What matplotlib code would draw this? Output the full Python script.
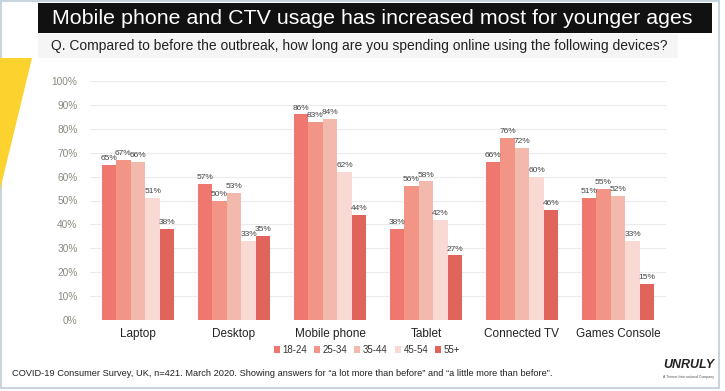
import matplotlib
matplotlib.use("Agg")
import matplotlib.pyplot as plt
from matplotlib.patches import Rectangle, Polygon
import numpy as np

categories = ["Laptop", "Desktop", "Mobile phone", "Tablet", "Connected TV", "Games Console"]
age_groups = ["18-24", "25-34", "35-44", "45-54", "55+"]
v_18_24 = [65, 57, 86, 38, 66, 51]
v_25_34 = [67, 50, 83, 56, 76, 55]
v_35_44 = [66, 53, 84, 58, 72, 52]
v_45_54 = [51, 33, 62, 42, 60, 33]
v_55p = [38, 35, 44, 27, 46, 15]
series = [v_18_24, v_25_34, v_35_44, v_45_54, v_55p]
colors = ["#EE776F", "#F29587", "#F4B9AD", "#F9D9D3", "#E0645B"]
yticks = [0, 10, 20, 30, 40, 50, 60, 70, 80, 90, 100]

base = "Liberation Sans"

W, H = 725, 391
fig = plt.figure(figsize=(W / 100, H / 100), dpi=100)
fig.patch.set_facecolor("white")

def fx(x):
    return x / W

def fy(y):
    return 1 - y / H

# border
fig.add_artist(Rectangle((fx(1), fy(388)), fx(718), (387) / H, transform=fig.transFigure,
                         facecolor="none", edgecolor="#C9D5DE", lw=1.5))
# yellow shape
fig.add_artist(Polygon([(fx(0), fy(58)), (fx(32), fy(58)), (fx(0), fy(190))], closed=True,
                       transform=fig.transFigure, facecolor="#FCD22E", edgecolor="none"))
# title bar
fig.add_artist(Rectangle((fx(38), fy(33)), fx(674), 30 / H, transform=fig.transFigure,
                         facecolor="#111111", edgecolor="none"))
fig.text(fx(52), fy(18), "Mobile phone and CTV usage has increased most for younger ages",
         color="white", fontsize=15.4, family=base, va="center", ha="left")
# subtitle band
fig.add_artist(Rectangle((fx(38), fy(58)), fx(640), 24 / H, transform=fig.transFigure,
                         facecolor="#F5F5F5", edgecolor="none"))
fig.text(fx(51), fy(46), "Q. Compared to before the outbreak, how long are you spending online using the following devices?",
         color="#222222", fontsize=10, family=base, va="center", ha="left")

ax = fig.add_axes([fx(90), fy(320), fx(576), 239 / H])
x = np.arange(len(categories))
bw = 0.152
for i, (vals, c) in enumerate(zip(series, colors)):
    pos = x + (i - 2) * bw
    ax.bar(pos, vals, width=bw, color=c, label=age_groups[i], zorder=2)
    for p, v in zip(pos, vals):
        ax.text(p, v + 1.2, f"{v}%", ha="center", va="bottom", fontsize=6.0,
                color="#444444", family=base)

ax.set_xlim(-0.5, len(categories) - 0.5)
ax.set_ylim(0, 100)
ax.set_yticks(yticks)
ax.set_yticklabels([f"{t}%" for t in yticks], fontsize=7.3, color="#8A8A80", family=base)
ax.set_xticks(x)
ax.set_xticklabels(categories, fontsize=8.5, color="#222222", family=base)
ax.tick_params(axis="both", length=0)
ax.tick_params(axis="y", pad=9)
ax.tick_params(axis="x", pad=6)
ax.grid(axis="y", color="#EBEBEB", lw=0.8, zorder=0)
for s in ax.spines.values():
    s.set_visible(False)
ax.set_facecolor("none")

leg = fig.legend(loc="center", bbox_to_anchor=(fx(367), fy(350)), ncol=5, frameon=False,
                 prop={"family": base, "size": 7}, handlelength=0.6, handleheight=0.6,
                 handletextpad=0.3, columnspacing=0.7)
for t in leg.get_texts():
    t.set_color("#333333")

fig.text(fx(12), fy(374), "COVID-19 Consumer Survey, UK, n=421. March 2020. Showing answers for \u201ca lot more than before\u201d and \u201ca little more than before\u201d.",
         fontsize=6.7, family=base, color="#222222", va="center", ha="left")
fig.text(fx(714), fy(365), "UNRULY", fontsize=9, family=base, weight="bold", style="italic",
         color="#222222", va="center", ha="right")
fig.text(fx(714), fy(377), "A Tremor International Company", fontsize=2.5, family=base,
         color="#555555", va="center", ha="right")

fig.savefig("out.png", dpi=100)
